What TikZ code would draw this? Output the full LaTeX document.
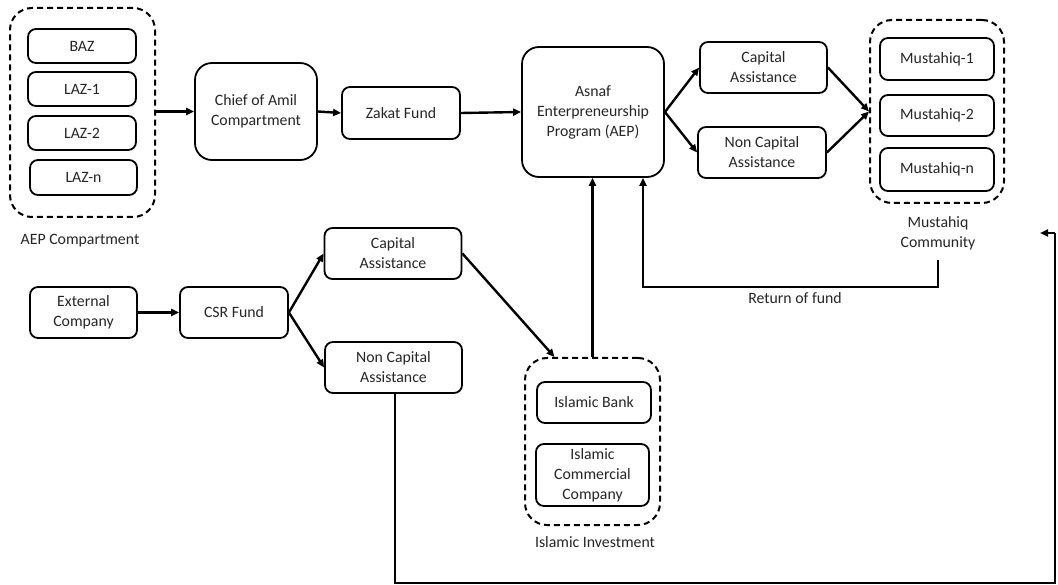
\documentclass[tikz,border=0pt]{standalone}
\usepackage{fontspec}
\setmainfont{Carlito}
\usetikzlibrary{arrows.meta}
\begin{document}
\begin{tikzpicture}[x=1pt,y=-1pt,
  every node/.style={font=\fontsize{15.8}{20}\selectfont, align=center, inner sep=0pt, text=black!85},
  box/.style={draw, line width=1.8pt, rounded corners=8pt},
  bigbox/.style={draw, line width=1.8pt, rounded corners=17pt},
  group/.style={draw, dashed, dash pattern=on 6pt off 4pt, line width=2pt, rounded corners=22pt},
  conn/.style={line width=2.4pt, -{Triangle[length=8pt,width=7pt]}},
]
\useasboundingbox (0,0) rectangle (1058,585);
\fill[white] (0,0) rectangle (1058,585);
% AEP compartment
\node[group, minimum width=145pt, minimum height=209pt] (aepc) at (82.5,112.5) {};
\node[box, minimum width=108pt, minimum height=34pt] (baz) at (82,46) {BAZ};
\node[box, minimum width=108pt, minimum height=34pt] (laz1) at (82,89) {LAZ-1};
\node[box, minimum width=108pt, minimum height=34pt] (laz2) at (82,133) {LAZ-2};
\node[box, minimum width=107pt, minimum height=35pt] (lazn) at (83.5,177.5) {LAZ-n};
\node (aepcl) at (80,241) {AEP Compartment};
% chain
\node[bigbox, minimum width=122pt, minimum height=97pt] (chief) at (256,111.5) {Chief of Amil\\Compartment};
\node[box, minimum width=118pt, minimum height=52pt] (zakat) at (401,113) {Zakat Fund};
\node[bigbox, minimum width=142pt, minimum height=130pt] (aep) at (593,112) {Asnaf\\Enterpreneurship\\Program (AEP)};
\node[box, minimum width=127pt, minimum height=51pt] (cap1) at (763.5,67.5) {Capital\\Assistance};
\node[box, minimum width=128pt, minimum height=51pt] (ncap1) at (762,152.5) {Non Capital\\Assistance};
% Mustahiq
\node[group, minimum width=134pt, minimum height=183pt] (must) at (937,111.5) {};
\node[box, minimum width=114pt, minimum height=42pt] (m1) at (937,59) {Mustahiq-1};
\node[box, minimum width=114pt, minimum height=41pt] (m2) at (937,115.5) {Mustahiq-2};
\node[box, minimum width=114pt, minimum height=43pt] (mn) at (937,169.5) {Mustahiq-n};
\node (mustl) at (938,233) {Mustahiq\\Community};
% lower
\node[box, minimum width=107pt, minimum height=51pt] (ext) at (83.5,312.5) {External\\Company};
\node[box, minimum width=108pt, minimum height=51pt] (csr) at (234,312.5) {CSR Fund};
\node[box, minimum width=137pt, minimum height=51pt] (cap2) at (393,253.5) {Capital\\Assistance};
\node[box, minimum width=137pt, minimum height=51pt] (ncap2) at (393.5,367.5) {Non Capital\\Assistance};
% Islamic investment
\node[group, minimum width=135pt, minimum height=167pt] (isl) at (592.5,441.5) {};
\node[box, minimum width=114pt, minimum height=41pt] (bank) at (594,402.5) {Islamic Bank};
\node[box, minimum width=113pt, minimum height=62pt] (icc) at (592.5,475) {Islamic\\Commercial\\Company};
\node (isll) at (595,542) {Islamic Investment};
\node (ret) at (795,298) {Return of fund};
% connectors
\draw[conn] (aepc.east |- chief.west) -- (chief.west);
\draw[conn] (chief.east) -- (zakat.west);
\draw[conn] (zakat.east) -- (aep.west);
\draw[conn] (aep.east) -- (cap1.west);
\draw[conn] (aep.east) -- (ncap1.west);
\draw[conn] (cap1.east) -- (must.west);
\draw[conn] (ncap1.east) -- (must.west);
\draw[conn] (ext.east) -- (csr.west);
\draw[conn] (csr.east) -- (cap2.west);
\draw[conn] (csr.east) -- (ncap2.west);
\coordinate (istop) at ([xshift=-38pt]isl.north);
\draw[conn] (cap2.east) -- (istop);
\draw[conn] (isl.north) -- (isl.north |- aep.south);
\coordinate (retA) at (938,260);
\coordinate (retB) at (938,287);
\coordinate (retC) at (643,287);
\draw[conn] (retA) -- (retB) -- (retC) -- (retC |- aep.south);
\coordinate (lb) at (395,583);
\coordinate (rb) at (1055,583);
\coordinate (rt) at (1055,233);
\coordinate (tip) at (1040,233);
\draw[line width=2pt] (ncap2.south -| lb) -- (lb) -- (rb) -- (rt);
\draw[conn, line width=2pt] (rt) -- (tip);
\end{tikzpicture}
\end{document}
